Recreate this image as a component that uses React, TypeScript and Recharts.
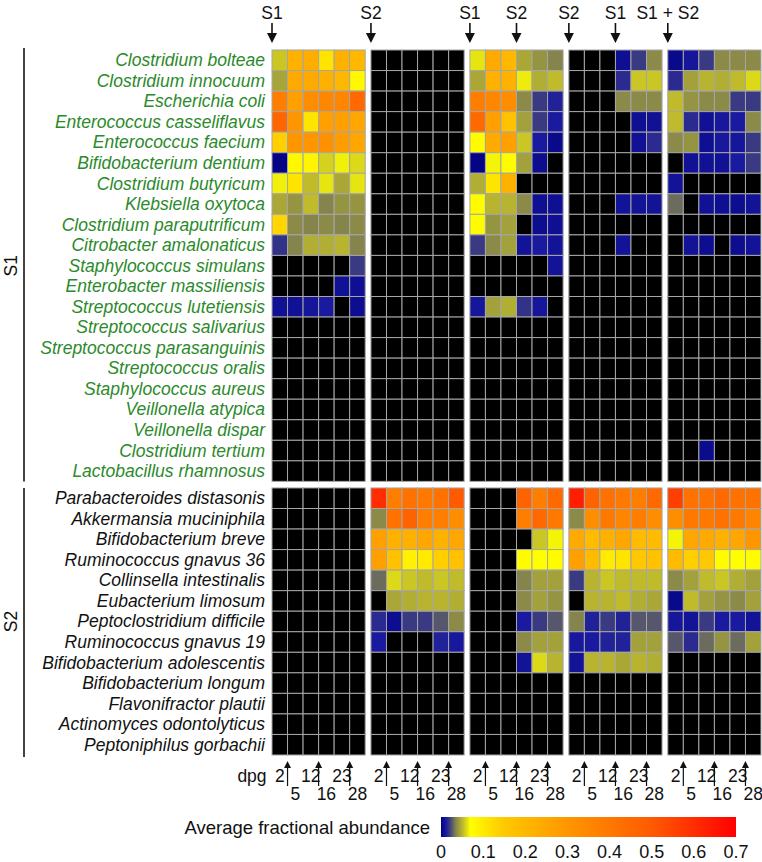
import React from 'react'
import { ScatterChart, Scatter, XAxis, YAxis, ReferenceArea } from 'recharts'

const _ = null
type Row = (number | null)[]
// not detected at any time point
const X: Row = [_, _, _, _, _, _]

const s1Species = [
  'Clostridium bolteae',
  'Clostridium innocuum',
  'Escherichia coli',
  'Enterococcus casseliflavus',
  'Enterococcus faecium',
  'Bifidobacterium dentium',
  'Clostridium butyricum',
  'Klebsiella oxytoca',
  'Clostridium paraputrificum',
  'Citrobacter amalonaticus',
  'Staphylococcus simulans',
  'Enterobacter massiliensis',
  'Streptococcus lutetiensis',
  'Streptococcus salivarius',
  'Streptococcus parasanguinis',
  'Streptococcus oralis',
  'Staphylococcus aureus',
  'Veillonella atypica',
  'Veillonella dispar',
  'Clostridium tertium',
  'Lactobacillus rhamnosus',
]

const s2Species = [
  'Parabacteroides distasonis',
  'Akkermansia muciniphila',
  'Bifidobacterium breve',
  'Ruminococcus gnavus 36',
  'Collinsella intestinalis',
  'Eubacterium limosum',
  'Peptoclostridium difficile',
  'Ruminococcus gnavus 19',
  'Bifidobacterium adolescentis',
  'Bifidobacterium longum',
  'Flavonifractor plautii',
  'Actinomyces odontolyticus',
  'Peptoniphilus gorbachii',
]

const days = ['2', '5', '12', '16', '23', '28']

// community added (arrow above the panel): panel index, day column
const inoculations = [
  { panel: 0, day: 0, label: 'S1' },
  { panel: 1, day: 0, label: 'S2' },
  { panel: 2, day: 0, label: 'S1' },
  { panel: 2, day: 3, label: 'S2' },
  { panel: 3, day: 0, label: 'S2' },
  { panel: 3, day: 3, label: 'S1' },
  { panel: 4, day: 0, label: 'S1 + S2' },
]

const scaleTicks = [0, 0.1, 0.2, 0.3, 0.4, 0.5, 0.6, 0.7]
const scaleStops: [number, string][] = [
  [0, '#000080'],
  [0.012, '#1a1aa0'],
  [0.022, '#42427a'],
  [0.035, '#84844c'],
  [0.05, '#b8b430'],
  [0.07, '#ffff00'],
  [0.15, '#ffc800'],
  [0.3, '#ff9600'],
  [0.5, '#ff5a00'],
  [0.7, '#ff0000'],
]

// average fractional abundance, rows = species, cols = dpg
const panel1S1: Row[] = [
  [0.055, 0.22, 0.23, 0.11, 0.22, 0.2],
  [0.045, 0.24, 0.24, 0.22, 0.2, 0.08],
  [0.38, 0.27, 0.33, 0.35, 0.35, 0.45],
  [0.46, 0.3, 0.11, 0.27, 0.27, 0.25],
  [0.14, 0.3, 0.3, 0.32, 0.28, 0.25],
  [0.002, 0.08, 0.085, 0.058, 0.066, 0.06],
  [0.066, 0.11, 0.052, 0.063, 0.046, 0.063],
  [0.046, 0.04, 0.052, 0.035, 0.04, 0.04],
  [0.13, 0.037, 0.035, 0.037, 0.035, 0.037],
  [0.018, 0.035, 0.048, 0.048, 0.05, 0.035],
  [_, _, _, _, _, 0.02],
  [_, _, _, _, 0.008, 0.007],
  [0.008, 0.008, 0.01, 0.012, _, 0.006],
  X, X, X, X, X, X, X, X,
]
const panel2S1: Row[] = [X, X, X, X, X, X, X, X, X, X, X, X, X, X, X, X, X, X, X, X, X]
const panel3S1: Row[] = [
  [0.063, 0.24, 0.2, 0.046, 0.04, 0.035],
  [0.046, 0.22, 0.22, 0.065, 0.048, 0.052],
  [0.38, 0.35, 0.33, 0.037, 0.02, 0.014],
  [0.45, 0.27, 0.17, 0.044, 0.02, 0.012],
  [0.075, 0.24, 0.27, 0.055, 0.012, 0.004],
  [0.002, 0.067, 0.075, 0.044, 0.006, _],
  [0.048, 0.11, 0.22, _, _, _],
  [0.075, 0.05, 0.05, 0.037, 0.007, 0.007],
  [0.075, 0.04, 0.044, _, 0.006, 0.007],
  [0.02, 0.037, 0.044, 0.009, 0.012, 0.009],
  [_, _, _, _, _, 0.009],
  X,
  [0.01, 0.044, 0.048, 0.018, 0.01, _],
  X, X, X, X, X, X, X, X,
]
const panel4S1: Row[] = [
  [_, _, _, 0.007, 0.02, 0.037],
  [_, _, _, 0.016, 0.055, 0.055],
  [_, _, _, 0.037, 0.037, 0.037],
  [_, _, _, _, 0.007, 0.008],
  [_, _, _, _, 0.008, 0.016],
  X,
  X,
  [_, _, _, 0.009, 0.009, 0.009],
  X,
  [_, _, _, 0.009, _, _],
  X, X, X, X, X, X, X, X, X, X, X,
]
const panel5S1: Row[] = [
  [0.004, 0.01, 0.02, 0.037, 0.037, 0.037],
  [0.016, 0.044, 0.05, 0.048, 0.052, 0.06],
  [0.052, 0.04, 0.037, 0.037, 0.02, 0.02],
  [0.052, 0.016, 0.008, 0.011, 0.012, 0.037],
  [0.037, 0.04, 0.007, 0.011, 0.01, 0.02],
  [_, 0.008, 0.008, 0.008, 0.012, 0.02],
  [0.009, _, _, _, _, _],
  [0.03, _, 0.008, 0.007, 0.006, 0.009],
  X,
  [_, 0.009, 0.006, _, 0.006, 0.009],
  X, X, X, X, X, X, X, X, X,
  [_, _, 0.005, _, _, _],
  X,
]

const panel1S2: Row[] = [X, X, X, X, X, X, X, X, X, X, X, X, X]
const panel2S2: Row[] = [
  [0.6, 0.38, 0.42, 0.4, 0.42, 0.5],
  [0.037, 0.42, 0.47, 0.38, 0.38, 0.33],
  [0.27, 0.22, 0.22, 0.25, 0.22, 0.25],
  [0.27, 0.17, 0.09, 0.1, 0.14, 0.17],
  [0.03, 0.06, 0.055, 0.052, 0.055, 0.052],
  [_, 0.046, 0.048, 0.05, 0.05, 0.048],
  [0.016, 0.006, 0.02, 0.02, 0.026, 0.037],
  [0.012, _, _, _, 0.014, 0.011],
  X, X, X, X, X,
]
const panel3S2: Row[] = [
  [_, _, _, 0.47, 0.38, 0.45],
  [_, _, _, 0.38, 0.45, 0.4],
  [_, _, _, _, 0.055, 0.067],
  [_, _, _, 0.075, 0.07, 0.075],
  [_, _, _, 0.035, 0.044, 0.044],
  [_, _, _, 0.037, 0.044, 0.04],
  [_, _, _, 0.012, 0.02, 0.026],
  [_, _, _, 0.037, 0.044, 0.044],
  [_, _, _, 0.009, 0.06, 0.05],
  X, X, X, X,
]
const panel4S2: Row[] = [
  [0.63, 0.47, 0.42, 0.4, 0.38, 0.45],
  [0.037, 0.33, 0.4, 0.36, 0.38, 0.33],
  [0.24, 0.19, 0.22, 0.25, 0.19, 0.19],
  [0.27, 0.19, 0.1, 0.11, 0.15, 0.17],
  [0.02, 0.05, 0.055, 0.052, 0.052, 0.052],
  [_, 0.05, 0.05, 0.052, 0.048, 0.046],
  [0.035, 0.014, 0.02, 0.014, 0.026, 0.026],
  [0.011, 0.012, 0.014, 0.014, 0.044, 0.044],
  [0.009, 0.05, 0.05, 0.046, 0.05, 0.048],
  X, X, X, X,
]
const panel5S2: Row[] = [
  [0.56, 0.42, 0.42, 0.45, 0.42, 0.42],
  [0.33, 0.4, 0.4, 0.42, 0.4, 0.36],
  [0.067, 0.25, 0.24, 0.22, 0.25, 0.3],
  [0.19, 0.14, 0.15, 0.075, 0.07, 0.075],
  [0.037, 0.044, 0.052, 0.055, 0.048, 0.044],
  [0.004, 0.052, 0.044, 0.04, 0.037, 0.044],
  [0.01, 0.009, 0.02, 0.012, 0.012, 0.009],
  [0.026, 0.016, 0.03, 0.04, 0.03, 0.044],
  X, X, X, X, X,
]

const panelsS1 = [panel1S1, panel2S1, panel3S1, panel4S1, panel5S1]
const panelsS2 = [panel1S2, panel2S2, panel3S2, panel4S2, panel5S2]

// layout
const W = 762
const H = 862
const TOP = 50
const BOTTOM = 755
const LEFT = 272
const RIGHT = 761
const PITCH = 6.37 // panel spacing in cell units
const GAP = 0.32 // gap between S1 and S2 blocks in rows
const X_MAX = 4 * PITCH + 6
const Y_MAX = s1Species.length + GAP + s2Species.length
const CELL_W = (RIGHT - LEFT) / X_MAX
const CELL_H = (BOTTOM - TOP) / Y_MAX
const FONT = '"Liberation Sans", Arial, sans-serif'
const INK = '#111'

function hexToRgb(h: string) {
  return [1, 3, 5].map((i) => parseInt(h.slice(i, i + 2), 16))
}

function colorFor(v: number) {
  for (let i = 1; i < scaleStops.length; i++) {
    const [v1, c1] = scaleStops[i]
    if (v <= v1) {
      const [v0, c0] = scaleStops[i - 1]
      const t = (v - v0) / (v1 - v0)
      const a = hexToRgb(c0)
      const b = hexToRgb(c1)
      const m = a.map((x, k) => Math.round(x + (b[k] - x) * t))
      return `rgb(${m[0]},${m[1]},${m[2]})`
    }
  }
  return scaleStops[scaleStops.length - 1][1]
}

const s2Offset = s1Species.length + GAP

const cells: { x: number; y: number; v: number | null }[] = []
panelsS1.forEach((rows, p) =>
  rows.forEach((row, r) => row.forEach((v, c) => cells.push({ x: p * PITCH + c + 0.5, y: r + 0.5, v })))
)
panelsS2.forEach((rows, p) =>
  rows.forEach((row, r) =>
    row.forEach((v, c) => cells.push({ x: p * PITCH + c + 0.5, y: s2Offset + r + 0.5, v }))
  )
)

const rowTicks = [
  ...s1Species.map((name, i) => ({ y: i + 0.5, name, group: 1 })),
  ...s2Species.map((name, i) => ({ y: s2Offset + i + 0.5, name, group: 2 })),
]

const dayTicks: { x: number; day: number }[] = []
panelsS1.forEach((_p, p) => days.forEach((_d, c) => dayTicks.push({ x: p * PITCH + c + 0.5, day: c })))

const arrowTicks = inoculations.map((m) => ({ ...m, x: m.panel * PITCH + m.day }))

const near = (a: number, b: number) => Math.abs(a - b) < 1e-6

function CellShape(props: any) {
  const { cx, cy, payload } = props
  return (
    <rect
      x={cx - CELL_W / 2}
      y={cy - CELL_H / 2}
      width={CELL_W}
      height={CELL_H}
      fill={payload.v == null ? '#000' : colorFor(payload.v)}
      stroke="#a6a6a6"
      strokeWidth={1}
    />
  )
}

function SpeciesTick({ y, payload }: any) {
  const row = rowTicks.find((t) => near(t.y, payload.value))
  if (!row) return null
  return (
    <text
      x={LEFT - 7}
      y={y}
      textAnchor="end"
      dominantBaseline="central"
      fontStyle="italic"
      fontSize={17.5}
      fontFamily={FONT}
      fill={row.group === 1 ? '#2b8a2b' : INK}
    >
      {row.name}
    </text>
  )
}

function InoculationTick({ x, payload }: any) {
  const mark = arrowTicks.find((t) => near(t.x, payload.value))
  if (!mark) return null
  return (
    <g>
      <text x={x} y={13} textAnchor="middle" dominantBaseline="central" fontSize={17.5} fontFamily={FONT} fill={INK}>
        {mark.label}
      </text>
      <line x1={x} x2={x} y1={23} y2={36} stroke={INK} strokeWidth={1.6} />
      <path d={`M${x - 5},33 L${x + 5},33 L${x},43 Z`} fill={INK} />
    </g>
  )
}

function DayTick({ x, payload }: any) {
  const t = dayTicks.find((d) => near(d.x, payload.value))
  if (!t) return null
  if (t.day % 2 === 0) {
    return (
      <text x={x} y={776} textAnchor="middle" dominantBaseline="central" fontSize={17.5} fontFamily={FONT} fill={INK}>
        {days[t.day]}
      </text>
    )
  }
  const ax = x - CELL_W / 2
  return (
    <g>
      <line x1={ax} x2={ax} y1={766} y2={786} stroke={INK} strokeWidth={1.2} />
      <path d={`M${ax - 3.5},768 L${ax + 3.5},768 L${ax},761 Z`} fill={INK} />
      <text x={x} y={794} textAnchor="middle" dominantBaseline="central" fontSize={17.5} fontFamily={FONT} fill={INK}>
        {days[t.day]}
      </text>
    </g>
  )
}

function Heatmap() {
  return (
    <ScatterChart width={W} height={H} margin={{ top: 0, right: W - RIGHT, bottom: 0, left: 0 }}>
      <XAxis
        xAxisId="top"
        orientation="top"
        type="number"
        dataKey="x"
        domain={[0, X_MAX]}
        ticks={arrowTicks.map((t) => t.x)}
        interval={0}
        height={TOP}
        axisLine={false}
        tickLine={false}
        tick={<InoculationTick />}
      />
      <XAxis
        xAxisId="dpg"
        type="number"
        dataKey="x"
        domain={[0, X_MAX]}
        ticks={dayTicks.map((t) => t.x)}
        interval={0}
        height={H - BOTTOM}
        axisLine={false}
        tickLine={false}
        tick={<DayTick />}
      />
      <YAxis
        type="number"
        dataKey="y"
        domain={[0, Y_MAX]}
        reversed
        ticks={rowTicks.map((t) => t.y)}
        interval={0}
        width={LEFT}
        axisLine={false}
        tickLine={false}
        tick={<SpeciesTick />}
      />
      <Scatter xAxisId="dpg" data={cells} shape={<CellShape />} isAnimationActive={false} />
      <Scatter
        xAxisId="top"
        data={arrowTicks.map((t) => ({ x: t.x, y: 0.5 }))}
        shape={() => <g />}
        isAnimationActive={false}
      />
    </ScatterChart>
  )
}

function ColorScale() {
  return (
    <ScatterChart width={W} height={62} margin={{ top: 17, right: 26, bottom: 0, left: 441 }}>
      <defs>
        <linearGradient id="abundance" x1="0" y1="0" x2="1" y2="0">
          {scaleStops.map(([v, c]) => (
            <stop key={v} offset={v / 0.7} stopColor={c} />
          ))}
        </linearGradient>
      </defs>
      <XAxis
        type="number"
        dataKey="x"
        domain={[0, 0.7]}
        ticks={scaleTicks}
        interval={0}
        height={25}
        axisLine={false}
        tickLine={false}
        tick={{ fontSize: 18, fill: INK, fontFamily: FONT }}
      />
      <YAxis type="number" dataKey="y" domain={[0, 1]} hide />
      <ReferenceArea x1={0} x2={0.7} y1={0} y2={1} fill="url(#abundance)" fillOpacity={1} stroke="none" />
      <Scatter data={[{ x: 0, y: 0 }, { x: 0.7, y: 1 }]} shape={() => <g />} isAnimationActive={false} />
    </ScatterChart>
  )
}

export default function App() {
  const s1Mid = (TOP + TOP + s1Species.length * CELL_H) / 2
  const s2Top = TOP + s2Offset * CELL_H
  const s2Mid = (s2Top + BOTTOM) / 2
  return (
    <div style={{ position: 'relative', width: W, height: H, background: '#fff', fontFamily: FONT }}>
      <style>{'body{margin:0}'}</style>
      <div style={{ position: 'absolute', left: 0, top: 0 }}>
        <Heatmap />
      </div>
      <div style={{ position: 'absolute', left: 0, top: 800 }}>
        <ColorScale />
      </div>
      <svg width={W} height={H} style={{ position: 'absolute', left: 0, top: 0, pointerEvents: 'none' }}>
        <line x1={24} x2={24} y1={TOP - 2} y2={TOP + s1Species.length * CELL_H} stroke="#444" strokeWidth={2} />
        <line x1={24} x2={24} y1={s2Top} y2={BOTTOM + 2} stroke="#444" strokeWidth={2} />
        <text x={11} y={s1Mid} transform={`rotate(-90 11 ${s1Mid})`} textAnchor="middle" dominantBaseline="central" fontSize={17.5} fill={INK}>
          S1
        </text>
        <text x={11} y={s2Mid} transform={`rotate(-90 11 ${s2Mid})`} textAnchor="middle" dominantBaseline="central" fontSize={17.5} fill={INK}>
          S2
        </text>
        <text x={252} y={776} textAnchor="middle" dominantBaseline="central" fontSize={17.5} fill={INK}>
          dpg
        </text>
        <text x={430} y={827} textAnchor="end" dominantBaseline="central" fontSize={18.5} fill={INK}>
          Average fractional abundance
        </text>
      </svg>
    </div>
  )
}
